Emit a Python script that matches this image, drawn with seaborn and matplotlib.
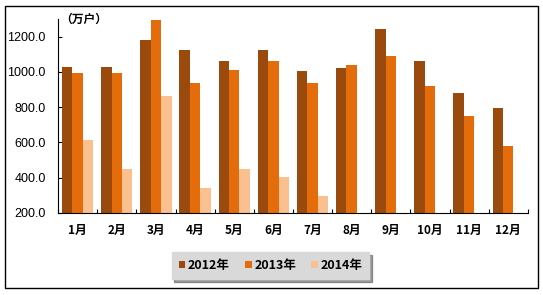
import numpy as np
import pandas as pd
import matplotlib
matplotlib.use('Agg')
import matplotlib.pyplot as plt
from matplotlib.patches import Rectangle
import seaborn as sns

# data
months = ['1月', '2月', '3月', '4月', '5月', '6月', '7月', '8月', '9月', '10月', '11月', '12月']
v2012 = [1030, 1030, 1183, 1121, 1064, 1121, 1002, 1019, 1245, 1064, 878, 793]
v2013 = [991, 991, 1296, 934, 1008, 1059, 934, 1036, 1087, 917, 748, 578]
v2014 = [612, 449, 861, 341, 449, 403, 296, np.nan, np.nan, np.nan, np.nan, np.nan]
years = ['2012年', '2013年', '2014年']
colors = ['#9A4A0C', '#E46C0A', '#FAC090']

df = pd.DataFrame({
    'month': months * 3,
    'year': [years[0]] * 12 + [years[1]] * 12 + [years[2]] * 12,
    'value': v2012 + v2013 + v2014,
})

sns.set_style('white')
plt.rcParams['font.family'] = ['Noto Sans CJK SC', 'DejaVu Sans']
plt.rcParams['text.color'] = 'black'
plt.rcParams['xtick.color'] = 'black'
plt.rcParams['ytick.color'] = 'black'

fig = plt.figure(figsize=(5.43, 2.95), dpi=100)
ax = fig.add_axes([0.107, 0.278, 0.865, 0.658])

sns.barplot(data=df, x='month', y='value', hue='year', order=months,
            hue_order=years, palette=colors, width=0.8, linewidth=0,
            saturation=1, ax=ax, legend=True)

ax.set_xlim(-0.5, 11.5)
ax.set_ylim(200, 1300)
ax.set_yticks([200, 400, 600, 800, 1000, 1200])
ax.set_yticklabels(['%.1f' % t for t in [200, 400, 600, 800, 1000, 1200]],
                   fontsize=9, family=['Liberation Sans', 'DejaVu Sans'])
ax.set_xlabel('')
ax.set_ylabel('')
for lab in ax.get_xticklabels():
    lab.set_fontsize(8.5)
    lab.set_fontweight('bold')

ax.spines['top'].set_visible(False)
ax.spines['right'].set_visible(False)
ax.spines['left'].set_color('black')
ax.spines['bottom'].set_color('black')
ax.spines['left'].set_linewidth(0.8)
ax.spines['bottom'].set_linewidth(0.8)

ax.tick_params(axis='y', direction='in', length=3, width=0.8, left=True, pad=9)
ax.tick_params(axis='x', which='major', length=0, pad=8)
ax.set_xticks(np.arange(-0.5, 12, 1), minor=True)
ax.tick_params(axis='x', which='minor', direction='in', length=3, width=0.8, bottom=True)

ax.text(0.005, 1.0, '（万户）', transform=ax.transAxes, fontsize=8.5,
        fontweight='bold', va='center', ha='left')

handles, labels = ax.get_legend_handles_labels()
ax.legend_.remove()
leg = fig.legend(handles, labels, loc='center', bbox_to_anchor=(0.498, 0.10),
                 ncol=3, frameon=True, fancybox=False, shadow=True,
                 handlelength=0.55, handleheight=0.55, handletextpad=0.2,
                 columnspacing=1.2, borderpad=0.55,
                 prop={'weight': 'bold', 'size': 9})
leg.get_frame().set_facecolor('#D9D9D9')
leg.get_frame().set_edgecolor('#D9D9D9')

fig.patches.append(Rectangle((5 / 543, 1 - 288 / 295), 533 / 543, 282 / 295,
                             transform=fig.transFigure, fill=False,
                             edgecolor='black', linewidth=1))

fig.savefig('out.png', dpi=100)
